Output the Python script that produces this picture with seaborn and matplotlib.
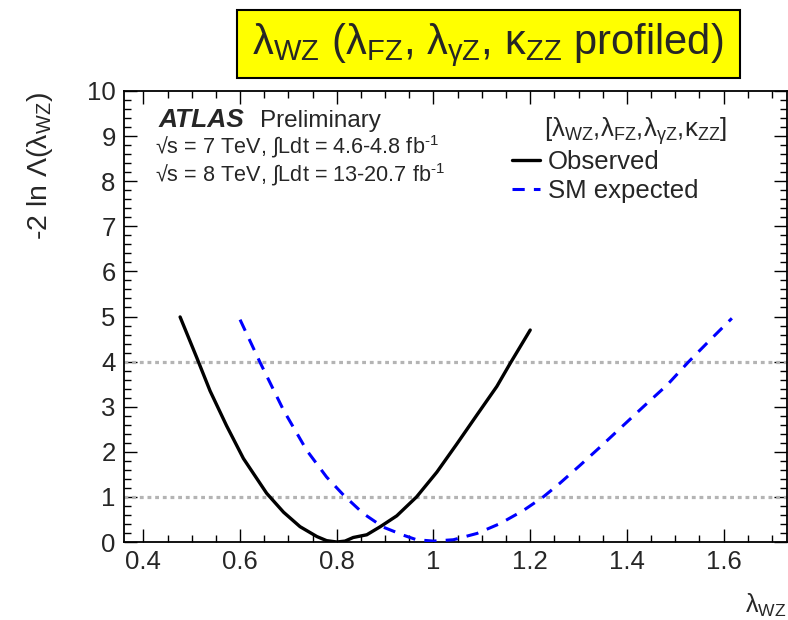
import matplotlib
matplotlib.use("Agg")
import matplotlib.pyplot as plt
from matplotlib.ticker import MultipleLocator
from matplotlib.patches import Rectangle
import seaborn as sns
import pandas as pd

# ---- data ----
obs_x = [0.476, 0.510, 0.538, 0.572, 0.607, 0.655, 0.690, 0.724, 0.759, 0.779,
         0.800, 0.817, 0.834, 0.862, 0.890, 0.924, 0.965, 1.007, 1.048, 1.090,
         1.131, 1.158, 1.200]
obs_y = [4.99, 4.10, 3.35, 2.58, 1.85, 1.08, 0.66, 0.34, 0.12, 0.03,
         0.00, 0.02, 0.10, 0.16, 0.34, 0.58, 1.00, 1.55, 2.17, 2.82,
         3.45, 3.95, 4.70]
exp_x = [0.600, 0.641, 0.690, 0.738, 0.779, 0.814, 0.855, 0.896, 0.938, 0.965,
         1.000, 1.041, 1.090, 1.138, 1.186, 1.227, 1.261, 1.303, 1.345, 1.393,
         1.434, 1.483, 1.527, 1.572, 1.617]
exp_y = [4.93, 3.99, 2.92, 2.03, 1.44, 1.04, 0.63, 0.33, 0.15, 0.05,
         0.02, 0.05, 0.19, 0.41, 0.70, 1.00, 1.30, 1.70, 2.11, 2.59,
         3.00, 3.48, 3.99, 4.48, 4.96]
thresholds = [1, 4]
series_labels = ["Observed", "SM expected"]
x_ticks = [0.4, 0.6, 0.8, 1.0, 1.2, 1.4, 1.6]
x_tick_labels = ["0.4", "0.6", "0.8", "1", "1.2", "1.4", "1.6"]

sns.set_theme(style="ticks")
plt.rcParams["font.family"] = ["Liberation Sans", "DejaVu Sans"]
plt.rcParams["mathtext.fontset"] = "custom"
plt.rcParams["mathtext.rm"] = "Liberation Sans"
plt.rcParams["mathtext.it"] = "Liberation Sans:italic"
plt.rcParams["mathtext.bf"] = "Liberation Sans:bold"

df_obs = pd.DataFrame({"x": obs_x, "y": obs_y})
df_exp = pd.DataFrame({"x": exp_x, "y": exp_y})

fig = plt.figure(figsize=(7.88, 6.20), dpi=100)
ax = fig.add_axes([124 / 788, 1 - 542 / 620, (787 - 124) / 788, (542 - 91) / 620])

for t in thresholds:
    ax.axhline(t, color="#b4b4b4", lw=2.3, ls=(0, (1.2, 1.2)), zorder=1)

sns.lineplot(data=df_obs, x="x", y="y", ax=ax, color="black", lw=2.4,
             sort=False, estimator=None, label=series_labels[0], zorder=3)
sns.lineplot(data=df_exp, x="x", y="y", ax=ax, color="#0000ff", lw=2.2,
             sort=False, estimator=None, label=series_labels[1], zorder=3)
ax.lines[-1].set_linestyle((0, (4, 3)))

ax.set_xlim(0.36, 1.731)
ax.set_ylim(0, 10)
ax.set_xticks(x_ticks)
ax.set_xticklabels(x_tick_labels)
ax.xaxis.set_minor_locator(MultipleLocator(0.05))
ax.yaxis.set_major_locator(MultipleLocator(1))
ax.yaxis.set_minor_locator(MultipleLocator(0.2))
ax.tick_params(which="both", direction="in", top=True, right=True,
               width=1.0, color="black", labelsize=18.5)
ax.tick_params(which="major", length=9.5, pad=6)
ax.tick_params(which="minor", length=5)
for s in ax.spines.values():
    s.set_linewidth(1.3)
    s.set_color("black")

ax.set_xlabel("")
ax.set_ylabel("")
fig.text(766 / 788, 1 - 605 / 620, r"λ$_{\rm WZ}$", fontsize=18, ha="center", va="center")
fig.text(40 / 788, 1 - 92 / 620, r"-2 ln Λ(λ$_{\rm WZ}$)", fontsize=20.5,
         rotation=90, ha="center", va="top")

# ATLAS label
ax.text(159, 620 - 127, "ATLAS", transform=None, fontsize=19, fontweight="bold",
        fontstyle="italic", ha="left", va="baseline")
ax.text(260, 620 - 127, "Preliminary", transform=None, fontsize=17.5,
        ha="left", va="baseline")
ax.text(155, 620 - 153, r"√s = 7 TeV, ∫Ldt = 4.6-4.8 fb$^{\text{-1}}$", transform=None,
        fontsize=15.6, ha="left", va="baseline")
ax.text(155, 620 - 181, r"√s = 8 TeV, ∫Ldt = 13-20.7 fb$^{\text{-1}}$", transform=None,
        fontsize=15.6, ha="left", va="baseline")

# legend
ax.text(544, 620 - 131, r"[λ$_{\rm WZ}$,λ$_{\rm FZ}$,λ$_{\rm γZ}$,κ$_{\rm ZZ}$]",
        transform=None, fontsize=18.5, ha="left", va="center")
leg = ax.legend(loc="upper left", bbox_to_anchor=(512 / 788, 1 - 150 / 620),
                bbox_transform=fig.transFigure, frameon=False, fontsize=18.5,
                handlelength=1.1, handletextpad=0.3, labelspacing=0.2,
                borderaxespad=0, borderpad=0)

# title box
fig.patches.append(Rectangle((237 / 788, 1 - 78 / 620), (740 - 237) / 788, (78 - 10) / 620,
                             transform=fig.transFigure, facecolor="#ffff00",
                             edgecolor="black", lw=1.5))
fig.text(488 / 788, 1 - 45 / 620,
         r"λ$_{\rm WZ}$ (λ$_{\rm FZ}$, λ$_{\rm γZ}$, κ$_{\rm ZZ}$ profiled)",
         fontsize=30, ha="center", va="center")

fig.savefig("out.png", dpi=100)
